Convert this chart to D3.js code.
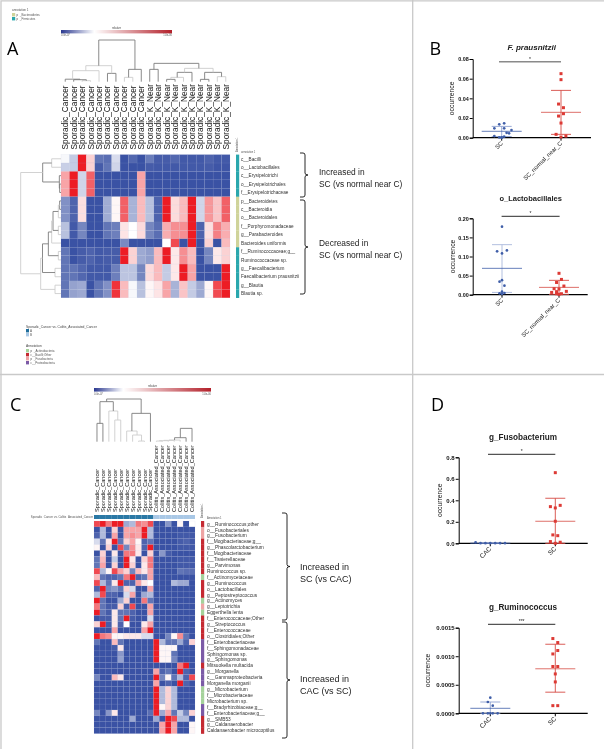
<!DOCTYPE html>
<html><head><meta charset="utf-8">
<script src="https://cdnjs.cloudflare.com/ajax/libs/d3/7.8.5/d3.min.js"></script>
<style>html,body{margin:0;padding:0;background:#fff}svg{display:block;font-family:"Liberation Sans",Arial,sans-serif;filter:blur(.35px)}</style>
</head><body><svg id="c" width="604" height="749"></svg>
<script>
// ---------- heatmap A ----------
const colsA = ["Sporadic_Cancer","Sporadic_Cancer","Sporadic_Cancer","Sporadic_Cancer","Sporadic_Cancer","Sporadic_Cancer","Sporadic_Cancer","Sporadic_Cancer","Sporadic_Cancer","Sporadic_Cancer","Sporadic_K_Near","Sporadic_K_Near","Sporadic_K_Near","Sporadic_K_Near","Sporadic_K_Near","Sporadic_K_Near","Sporadic_K_Near","Sporadic_K_Near","Sporadic_K_Near","Sporadic_K_Near"];
const rowsA = ["c__Bacilli","o__Lactobacillales","c__Erysipelotrichi","o__Erysipelotrichales","f__Erysipelotrichaceae","p__Bacteroidetes","c__Bacteroidia","o__Bacteroidales","f__Porphyromonadaceae","g__Parabacteroides","Bacteroides uniformis","f__Ruminococcaceae;g__","Ruminococcaceae sp.","g__Faecalibacterium","Faecalibacterium prausnitzii","g__Blautia","Blautia sp."];
const phylumA = [1,1,1,1,1,0,0,0,0,0,0,1,1,1,1,1,1];
const valuesA = [
[4.8,3.5,10,6,1,.8,4,0,.6,0,1.2,.3,.3,.6,.2,.2,.2,.5,.2,.2],
[3.6,3.5,10,6,.3,1,3.8,0,0,0,.3,.2,.2,.2,.2,.2,.2,.3,.1,.1],
[7,10,3.8,8.5,0,0,0,0,0,7,0,0,0,0,0,0,0,0,0,0],
[7,10,3.8,8.5,0,0,0,0,0,7,0,0,0,0,0,0,0,0,0,0],
[7,10,3.8,8.5,0,0,0,0,0,7,0,0,0,0,0,0,0,0,0,0],
[1.8,.5,5.7,0,0,2.6,5.2,8.5,2.8,6.5,3.2,.5,10,5.8,6.5,10,3.8,7.3,6.3,8.5],
[1.8,.5,5.7,0,0,2.6,5.2,8.5,2.8,6.5,3.2,.5,10,5.8,6.5,10,3.8,7.3,6.3,8.5],
[1.8,.5,5.7,0,0,2.6,5.2,8.5,2.8,6.5,3.2,.5,10,5.8,6.5,10,3.8,7.3,6.3,8.5],
[3.2,.2,1.5,0,0,1,1.3,5.6,5,5.8,1.5,.8,6.8,7.5,7.5,10,.5,5.7,7.8,6.8],
[3.2,.2,1.5,0,0,1,1.3,5.6,5,5.8,1.5,.8,6.8,7.5,7.5,10,.5,5.7,7.8,6.8],
[0,0,0,0,0,0,0,1.6,0,0,0,0,5,9,0,10,0,6,0,6.5],
[1,0,.3,.5,.2,.3,.3,10,6,2.5,2.2,6.5,10,5.5,7.5,6.5,0,1.5,5.5,6],
[1,0,.3,.5,.2,.3,.3,10,6,2.5,2.2,6.5,10,5.5,7.5,6.5,0,1.5,5.5,6],
[1,1,.6,.2,.2,.2,1.3,3.3,3.3,1.5,5.8,6.5,3.5,5.5,10,7,0,0,0,10],
[1,1,.6,.2,.2,.2,1.3,3.3,3.3,1.5,5.8,6.5,3.5,5.5,10,7,0,0,0,10],
[1,2.3,2.5,0,1,1.8,9.5,6.5,4.8,3.2,5.2,5.6,7,2.8,6.3,3.5,2.5,5.2,9,10],
[1,2.3,2.5,0,1,1.8,9.5,6.5,4.8,3.2,5.2,5.6,7,2.8,6.3,3.5,2.5,5.2,9,10]];
// dendrograms: [height, child, child]; leaves are indices
const treesATop = [
 [125,[48,[33,[7.5,0,[6,1,[3,2,3]]],4],[25,5,6]],[37,[13,7,8],9]],
 [55,[37,10,11],[40,[28,[13,[7,12,13],14],15],[28,[7,16,17],[15,18,19]]]]];
const lightATop = [48,33,3,13,40,15];
const treesALeft = [[121,[55,[28,0,1],[5,2,[4,3,4]]],[61,[55.5,[38,[28,[24,[8,[4,5,6],7],[8,8,9]],10],[8,11,12]],[18,13,14]],[18,15,16]]]];
const lightALeft = [121,61,18,28,8];

// ---------- heatmap C ----------
const colsC = ["Sporadic_Cancer","Sporadic_Cancer","Sporadic_Cancer","Sporadic_Cancer","Sporadic_Cancer","Sporadic_Cancer","Sporadic_Cancer","Sporadic_Cancer","Sporadic_Cancer","Sporadic_Cancer","Colitis_Associated_Cancer","Colitis_Associated_Cancer","Colitis_Associated_Cancer","Colitis_Associated_Cancer","Colitis_Associated_Cancer","Colitis_Associated_Cancer","Colitis_Associated_Cancer"];
const rowsC = ["g__Ruminococcus;other","o__Fusobacteriales","g__Fusobacterium","f__Mogibacteriaceae;g__","g__Phascolarctobacterium","f__Mogibacteriaceae","f__Tissierellaceae","g__Parvimonas","Ruminococcus sp.","f__Actinomycetaceae","g__Ruminococcus","o__Lactobacillales","g__Peptostreptococcus","g__Actinomyces","g__Leptotrichia","Eggerthella lenta","f__Enterococcaceae;Other","g__Streptococcus","f__Enterococcaceae","o__Clostridiales;Other","f__Enterobacteriaceae","f__Sphingomonadaceae","Sphingomonas sp.","g__Sphingomonas","Mitsuokella multacida","g__Morganella","c__Gammaproteobacteria","Morganella morganii","g__Microbacterium","f__Microbacteriaceae","Microbacterium sp.","f__Bradyrhizobiaceae;g__","f__Enterobacteriaceae;g__","g__SMB53","g__Caldanaerobacter","Caldanaerobacter microcoptilus"];
const phylumC = [1,2,2,1,1,1,1,1,1,0,1,1,1,0,2,0,1,1,1,1,3,3,3,3,1,3,3,3,0,0,0,3,3,1,1,1];
const valuesC = [
[9,10,8,10,10,2.5,3,8,7.5,9,0,0,2,0,5.2,0,5],
[0,3,0,6,0,7,7,7,10,3,0,0,0,0,0,0,0],
[.5,3,0,7,0,7,7.5,7,10,3,0,0,0,0,.2,.2,.2],
[4,1,5.5,10,1,6,7,5.2,.5,1,0,0,0,0,.3,.5,.2],
[5.2,0,6,0,9,1.5,7.5,5.5,.5,10,0,0,0,0,.2,.2,.2],
[0,6,0,5.5,0,8,8,5.5,0,6,0,2,.3,0,0,0,0],
[1,6.5,0,3.5,0,10,5.5,0,6,8,0,0,0,0,.2,.2,.2],
[1,7,0,6,0,10,6,0,5.5,8,0,0,0,0,.2,.2,.2],
[9,3,5.2,9,7,6,1.5,6.5,5.5,7,0,0,0,0,1,.8,.8],
[6.5,1,.5,.5,1,8,10,.5,1,7,0,0,0,0,0,0,0],
[9,3,1,5.5,10,.5,.5,7,5.5,5,0,0,0,3,2.5,2.5,0],
[.5,10,1.5,2,1,6,4,0,0,7,0,0,0,0,0,0,0],
[3,9,.5,.5,0,4,7,0,2.5,3,0,0,0,0,0,0,0],
[10,1,0,0,2.5,6,0,0,8,1,0,0,0,0,0,0,0],
[8,1,.3,.3,6,.3,9,0,0,7,0,0,0,0,0,0,0],
[10,1,.3,5.5,1,1,.5,0,0,7,0,0,0,0,0,0,0],
[0,.3,.3,5.5,1,10,.3,0,0,4,0,0,0,0,0,0,0],
[6,10,.3,5.5,.5,5,0,0,5.5,7,0,0,0,0,0,0,0],
[0,0,0,7,0,0,0,0,7,10,0,0,0,0,0,0,0],
[10,8,7.5,5.2,5.2,5.5,5.5,5.5,4,4,0,0,1.5,5.2,7.5,1,0],
[1,0,0,6.5,1,0,0,0,0,0,10,3,1,1,2.5,.5,6],
[0,0,0,.3,5.5,0,0,0,0,0,10,5.2,5.2,5.2,0,0,0],
[0,0,0,0,2,0,0,0,0,0,10,5.2,5.2,1,0,0,0],
[0,0,0,0,2.3,0,0,0,0,0,10,5.2,5.2,1.5,0,0,0],
[0,0,0,0,0,0,0,0,0,0,0,0,0,0,8,10,0],
[0,0,0,0,0,0,0,0,0,0,7,.5,1,0,10,.5,0],
[1.5,0,0,6.5,5.5,0,0,0,0,0,10,1.5,5.2,1,3,.5,9],
[0,0,0,0,0,0,0,0,0,0,7,0,.5,0,10,.5,0],
[0,0,0,0,0,0,0,0,0,0,10,3,6,3,0,0,0],
[0,0,0,0,0,0,0,0,0,0,10,3,6,3,0,0,0],
[0,0,0,0,0,0,0,0,0,0,10,3,6,3,0,0,0],
[0,0,0,0,0,0,0,0,0,0,10,5.2,6,3,0,0,0],
[1.5,0,2,5.5,0,0,0,0,0,.8,10,2.5,7,1,3.5,1.5,6],
[0,0,0,0,0,0,2.5,0,0,0,2.5,0,10,9,3,3,0],
[0,0,0,0,0,0,0,0,0,0,0,7,10,7,0,0,5.2],
[0,0,0,0,0,0,0,0,0,0,0,7,10,7,0,0,5.2]];
const treesCTop = [
 [128,[120,[55,0,1],[92,2,[65,3,4]]],[85,[32,5,[20,6,[2,7,8]]],9]],
 [40,[12,[5,[4,[3,[2,10,11],12],13],14],15],16]];
const lightCTop = [92,65,32,20,2,3,4,5];

// ---------- dot plots ----------
const b1Labels = ["SC","SC_normal_near_C"];
const b1A = [.0136,.0146,.0095,.0095,.0078,.005,.0044,.0017,.001,.0003,.0003,0];
const b1AJit = [-1,1,-3,1,4,2,3,-3,1,-1,0,0];
const b1B = [.0651,.059,.0342,.0305,.0244,.022,.0149,.0034,.0007,.0017];
const b1BJit = [0,0,-1,1,1,-1,0,-2,0,2];
const b1Stats = [[.0065,.0115,.0012],[.0258,.0481,.0034]];
const b1Ticks = [0,.02,.04,.06,.08];
const b2A = [.178,.1135,.116,.108,.038,.034,.0236,.008,.0035,.0044,.002];
const b2AJit = [0,-2,2,0,0,-1,1,0,-1,1,0];
const b2B = [.056,.032,.04,.0227,.0157,.0148,.008,.0087,.006,.0026,.0026,.001];
const b2BJit = [0,-1,1,2,-2,0,-1,3,-3,-1,1,0];
const b2Stats = [[.069,.131,.006],[.0192,.0376,.001]];
const b2Ticks = [0,.05,.1,.15,.2];
const dLabels = ["CAC","SC"];
const d1A = [.01,.001,.001,.001,.001,.001,.001];
const d1AJit = [-6,-4,-2,0,2,4,6];
const d1B = [.657,.341,.329,.353,.205,.078,.071,.016,0,.01];
const d1BJit = [0,-2,0,2,0,-1,1,-2,0,2];
const d1Stats = [[.001,.004,0],[.205,.419,0]];
const d1Ticks = [0,.2,.4,.6,.8];
const d2A = [.000274,.000198,.000134,0,0,0,0,0];
const d2AJit = [0,-1,1,-3,-1,1,3,0];
const d2B = [.00131,.00124,.00104,.0011,.00082,.00082,.00069,.00055,.000134,.000134];
const d2BJit = [-1,1,-1,1,-1,1,0,0,-1,1];
const d2Stats = [[.0000875,.000198,0],[.00078,.00121,.00037]];
const d2Ticks = [0,.0005,.001,.0015];

const svg = d3.select("#c");
const F = {heat:d3.scaleLinear().domain([0,5,10]).range(["#3a52a4","#ffffff","#ed1c24"])};

// panel frame
svg.append("path").attr("d","M1,749V0.8H604M412.7,0V749M0,374.5H604").attr("fill","none").attr("stroke","#c9c9c9").attr("stroke-width",1.3);
// panel letters
[["A",7,55],["B",429.5,55],["C",10,411],["D",431,411]].forEach(d=>svg.append("text").attr("x",d[1]).attr("y",d[2]).attr("font-size",18).attr("font-family","Open Sans").text(d[0]));

function txt(x,y,s,size,opt={}){
  const t=svg.append("text").attr("x",x).attr("y",y).attr("font-size",size).attr("fill",opt.fill||"#222").text(s);
  if(opt.anchor)t.attr("text-anchor",opt.anchor);
  if(opt.rot!=null)t.attr("transform",`rotate(${opt.rot},${x},${y})`);
  if(opt.weight)t.attr("font-weight",opt.weight);
  if(opt.style)t.attr("font-style",opt.style);
  return t;
}
function drawHeat(vals,x,y){
  const g=svg.append("g");
  vals.forEach((row,i)=>row.forEach((v,j)=>{
    g.append("rect").attr("x",x(j)).attr("y",y(i)).attr("width",x.bandwidth()).attr("height",y.bandwidth())
     .attr("fill",F.heat(v)).attr("stroke","#9aa6cf").attr("stroke-opacity",.2).attr("stroke-width",.4);
  }));
}
// dendrogram drawn through band scale for leaves and linear scale for heights
function drawTree(tree,leafPos,hPos,horizontal,lights){
  const g=svg.append("g").attr("fill","none").attr("stroke-width",.9);
  function walk(n){
    if(typeof n==="number")return {p:leafPos(n),h:0};
    const a=walk(n[1]),b=walk(n[2]);
    const hy=hPos(n[0]);
    const d=horizontal
      ?`M${hPos(a.h)},${a.p}H${hy}V${b.p}H${hPos(b.h)}`
      :`M${a.p},${hPos(a.h)}V${hy}H${b.p}V${hPos(b.h)}`;
    g.append("path").attr("d",d).attr("stroke",lights.includes(n[0])?"#cdcdcd":"#7d7d7d");
    return {p:(a.p+b.p)/2,h:n[0]};
  }
  walk(tree);
}
function colorbar(id,x0,x1,y0,h,mid){
  const defs=svg.append("defs").append("linearGradient").attr("id",id);
  [[0,"#2b3990"],[mid,"#ffffff"],[1,"#b3202a"]].forEach(s=>defs.append("stop").attr("offset",s[0]).attr("stop-color",s[1]));
  svg.append("rect").attr("x",x0).attr("y",y0).attr("width",x1-x0).attr("height",h).attr("fill",`url(#${id})`);
  txt((x0+x1)/2,y0-1,"relative",2.8,{anchor:"middle",fill:"#444"});
  txt(x0,y0+h+3,"0.0e-07",2.6,{fill:"#555"});
  txt(x1,y0+h+3,"1.0e-00",2.6,{anchor:"end",fill:"#555"});
}
function bracket(x0,x1,y0,y1){
  const m=(y0+y1)/2;
  svg.append("path").attr("d",`M${x0},${y0}H${x1-2}Q${x1},${y0} ${x1},${y0+2}V${m-2}Q${x1},${m} ${x1+3},${m}Q${x1},${m} ${x1},${m+2}V${y1-2}Q${x1},${y1} ${x1-2},${y1}H${x0}`)
   .attr("fill","none").attr("stroke","#111").attr("stroke-width",.9);
}
const annoColorsA=["#cfd39a","#2aa7ad"];
const annoColorsC=["#a5d29b","#c52a32","#eea4a4","#7b5aa6"];

// ---------- panel A ----------
const xA=d3.scaleBand().domain(d3.range(colsA.length)).range([61,230]);
const yA=d3.scaleBand().domain(d3.range(rowsA.length)).range([154.6,297.8]);
drawHeat(valuesA,xA,yA);
const hTopA=d3.scaleLinear().domain([0,125]).range([81.7,40]);
treesATop.forEach(t=>drawTree(t,i=>xA(i)+xA.bandwidth()/2,hTopA,false,lightATop));
const hLeftA=d3.scaleLinear().domain([0,121]).range([61,20.7]);
treesALeft.forEach(t=>drawTree(t,i=>yA(i)+yA.bandwidth()/2,hLeftA,true,lightALeft));
colsA.forEach((s,i)=>{const x=xA(i)+xA.bandwidth()/2+3;txt(x,149.5,s,8.3,{rot:-90,fill:"#111"});});
rowsA.forEach((s,i)=>{
  svg.append("rect").attr("x",236).attr("y",yA(i)).attr("width",3.2).attr("height",yA.bandwidth()+.2).attr("fill",annoColorsA[phylumA[i]]);
  txt(241,yA(i)+yA.bandwidth()/2+1.7,s,4.7,{fill:"#333"});
});
txt(241,152.8,"annotation 1",2.6,{fill:"#555"});
txt(238,152,"Annotation 1",2.6,{rot:-90,fill:"#555"});
colorbar("gA",61,172,30,3.4,.3);
// top-left legend
txt(12,11,"annotation 1",3,{fill:"#555"});
svg.append("rect").attr("x",12).attr("y",13).attr("width",3.2).attr("height",3.4).attr("fill",annoColorsA[0]);
svg.append("rect").attr("x",12).attr("y",17).attr("width",3.2).attr("height",3.4).attr("fill",annoColorsA[1]);
txt(16.5,15.8,"p__Bacteroidetes",3,{fill:"#555"});
txt(16.5,19.8,"p__Firmicutes",3,{fill:"#555"});
// bottom-left legend
txt(26,328,"Sporadic_Cancer vs. Colitis_Associated_Cancer",3.3,{fill:"#444"});
svg.append("rect").attr("x",26).attr("y",329).attr("width",3).attr("height",3.4).attr("fill","#1f6e9c");
svg.append("rect").attr("x",26).attr("y",333).attr("width",3).attr("height",3.4).attr("fill","#a9c8e6");
txt(30,332,"A",3,{fill:"#555"});txt(30,336,"B",3,{fill:"#555"});
txt(26,347,"Annotation",3.3,{fill:"#444"});
[["p__Actinobacteria",0],["c__Bacilli;Other",1],["p__Fusobacteria",2],["c__Proteobacteria",3]].forEach((d,i)=>{
  svg.append("rect").attr("x",26).attr("y",349+i*4).attr("width",3).attr("height",3.4).attr("fill",annoColorsC[d[1]]);
  txt(30.5,352+i*4,d[0],3,{fill:"#555"});
});
bracket(300,305,153,197);bracket(300,305,200,294);
txt(319,175,"Increased in",8.4,{fill:"#222"});txt(319,187,"SC (vs normal near C)",8.4,{fill:"#222"});
txt(319,246,"Decreased in",8.4,{fill:"#222"});txt(319,258,"SC (vs normal near C)",8.4,{fill:"#222"});

// ---------- panel C ----------
const xC=d3.scaleBand().domain(d3.range(colsC.length)).range([94,195]);
const yC=d3.scaleBand().domain(d3.range(rowsC.length)).range([521,733.6]);
drawHeat(valuesC,xC,yC);
const hTopC=d3.scaleLinear().domain([0,128]).range([441.7,399]);
treesCTop.forEach(t=>drawTree(t,i=>xC(i)+xC.bandwidth()/2,hTopC,false,lightCTop));
colsC.forEach((s,i)=>{
  const x=xC(i)+xC.bandwidth()/2+2;
  txt(x,512,s,5.6,{rot:-90,fill:"#111"});
  svg.append("rect").attr("x",xC(i)).attr("y",515).attr("width",xC.bandwidth()).attr("height",4).attr("fill",i<10?"#2a78a5":"#a9c8e6");
});
rowsC.forEach((s,i)=>{
  svg.append("rect").attr("x",201).attr("y",yC(i)).attr("width",3.2).attr("height",yC.bandwidth()+.2).attr("fill",annoColorsC[phylumC[i]]);
  txt(207,yC(i)+yC.bandwidth()/2+1.7,s,4.8,{fill:"#333"});
});
txt(93,518,"Sporadic_Cancer vs. Colitis_Associated_Cancer",2.9,{anchor:"end",fill:"#555"});
txt(207,519,"Annotation 1",2.6,{fill:"#555"});
txt(203,518,"Annotation 1",2.6,{rot:-90,fill:"#555"});
colorbar("gC",94,211,388,3.6,.25);
bracket(282,287,513,620);bracket(282,287,622,738);
txt(300,570,"Increased in",9,{fill:"#222"});txt(300,582,"SC (vs CAC)",9,{fill:"#222"});
txt(300,682,"Increased in",9,{fill:"#222"});txt(300,694,"CAC (vs SC)",9,{fill:"#222"});

// ---------- dot plots ----------
function dotPlot(o){
  const y=d3.scaleLinear().domain([0,o.max]).range([o.y0,o.y1]);
  const xp=d3.scalePoint().domain(o.labels).range(o.groups);
  const g=svg.append("g");
  const axis=d3.axisLeft(y).tickValues(o.ticks).tickSize(3).tickPadding(1).tickFormat(d3.format(o.fmt));
  const ax=g.append("g").attr("transform",`translate(${o.ax},0)`).call(axis);
  ax.selectAll("path,line").attr("stroke","#000").attr("stroke-width",1);
  ax.selectAll("text").attr("font-size",o.tickFont).attr("font-weight","bold").attr("font-family","Liberation Sans").attr("fill","#111");
  g.append("line").attr("x1",o.ax).attr("x2",o.axEnd).attr("y1",o.y0).attr("y2",o.y0).attr("stroke","#000").attr("stroke-width",1.2);
  const jit=d3.scaleLinear().domain([-1,1]).range([-2.45,2.45]);
  const cols=[{m:"#3f5ea8",e:o.errBlue||"#8ea2d0"},{m:"#d64b44",e:"#d64b44"}];
  o.labels.forEach((lab,k)=>{
    const cx=xp(lab),st=o.stats[k],c=cols[k];
    g.append("line").attr("x1",cx).attr("x2",cx).attr("y1",o.y0).attr("y2",o.y0+3).attr("stroke","#000");
    g.append("line").attr("x1",cx).attr("x2",cx).attr("y1",y(st[1])).attr("y2",y(st[2])).attr("stroke",c.e).attr("stroke-width",.9);
    [st[1],st[2]].forEach(v=>g.append("line").attr("x1",cx-10).attr("x2",cx+10).attr("y1",y(v)).attr("y2",y(v)).attr("stroke",c.e).attr("stroke-width",.9));
    g.append("line").attr("x1",cx-20).attr("x2",cx+20).attr("y1",y(st[0])).attr("y2",y(st[0])).attr("stroke",c.m).attr("stroke-width",.8);
    const vs=o.series[k],js=o.jitter[k];
    vs.forEach((v,i)=>{
      if(k===0)g.append("circle").attr("cx",cx+jit(js[i])).attr("cy",y(v)).attr("r",1.35).attr("fill","#3f5ea8");
      else g.append("rect").attr("x",cx+jit(js[i])-1.5).attr("y",y(v)-1.5).attr("width",3).attr("height",3).attr("fill","#dd3a35");
    });
    const lx=cx+1.5,ly=o.y0+6;
    txt(lx,ly,lab,o.labSize,{anchor:"end",rot:-45,fill:"#222"});
  });
  txt(o.yLabX,(o.y0+o.y1)/2,"occurrence",6.8,{anchor:"middle",rot:-90,fill:"#111"});
  txt(o.titleX,o.titleY,o.title,o.titleSize,{anchor:"middle",fill:"#222",weight:o.titleWeight||"bold",style:o.titleStyle});
  g.append("line").attr("x1",o.sig[0]).attr("x2",o.sig[1]).attr("y1",o.sigY).attr("y2",o.sigY).attr("stroke",o.sigC||"#111").attr("stroke-width",o.sigW||.9);
  txt((o.sig[0]+o.sig[1])/2,o.sigY-1,o.star,5,{anchor:"middle",fill:"#222"});
}
dotPlot({title:"F. prausnitzii",titleX:531.7,titleY:50,titleSize:8,titleStyle:"italic",labels:b1Labels,groups:[501.7,561],series:[b1A,b1B],jitter:[b1AJit,b1BJit],stats:b1Stats,max:.08,ticks:b1Ticks,fmt:".2f",tickFont:5.4,ax:472.7,axEnd:591,y0:137.7,y1:59,yLabX:454,sig:[499,561],sigY:61.7,sigC:"#8a8a8a",sigW:1.4,star:"*",labSize:5.9});
dotPlot({title:"o_Lactobacillales",titleX:530.7,titleY:201,titleSize:7.5,labels:b1Labels,groups:[502,559],series:[b2A,b2B],jitter:[b2AJit,b2BJit],stats:b2Stats,max:.2,ticks:b2Ticks,fmt:".2f",tickFont:5.4,ax:472.7,axEnd:587.7,y0:294.7,y1:218.3,yLabX:455,sig:[501.6,559.6],sigY:216.3,star:"*",labSize:5.9,errBlue:"#a9b8db"});
dotPlot({title:"g_Fusobacterium",titleX:523,titleY:440,titleSize:8.2,labels:dLabels,groups:[490.3,555.3],series:[d1A,d1B],jitter:[d1AJit,d1BJit],stats:d1Stats,max:.8,ticks:d1Ticks,fmt:".1f",tickFont:6,ax:458.7,axEnd:587.7,y0:543.3,y1:457.3,yLabX:442,sig:[488,555.3],sigY:454.3,star:"*",labSize:6.4});
dotPlot({title:"g_Ruminococcus",titleX:523,titleY:610,titleSize:8.2,labels:dLabels,groups:[490.3,555.3],series:[d2A,d2B],jitter:[d2AJit,d2BJit],stats:d2Stats,max:.0015,ticks:d2Ticks,fmt:".4f",tickFont:6,ax:458.7,axEnd:587.7,y0:713.3,y1:627.7,yLabX:430,sig:[488,555.3],sigY:624.3,star:"***",labSize:6.4});
</script></body></html>
